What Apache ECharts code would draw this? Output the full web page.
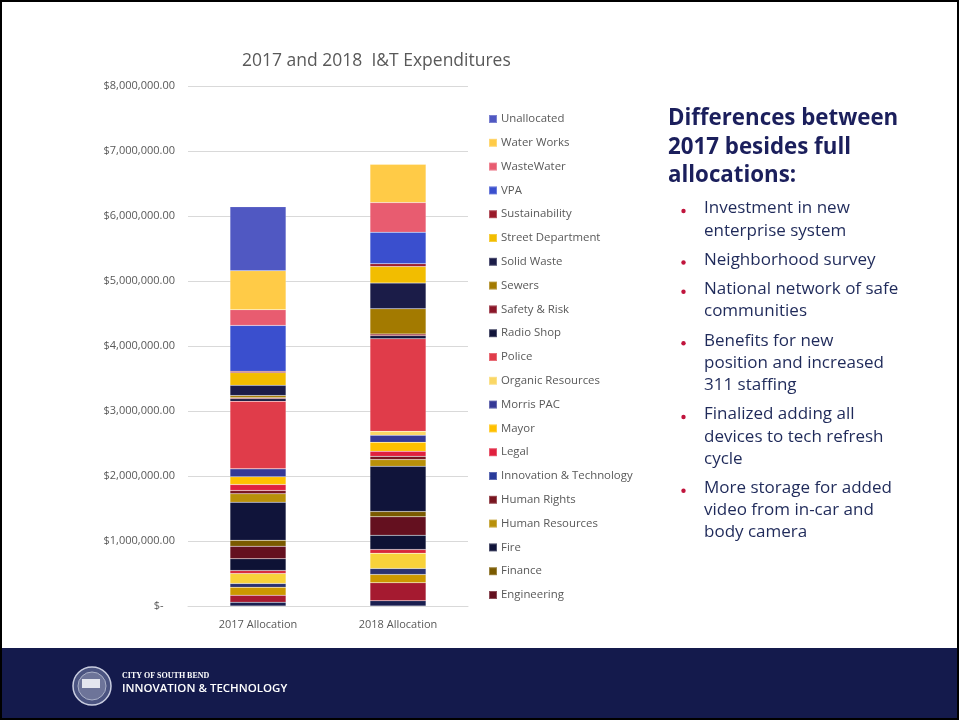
<!DOCTYPE html>
<html>
<head>
<meta charset="utf-8">
<script src="https://cdn.jsdelivr.net/npm/echarts@6/dist/echarts.min.js"></script>
<style>
html,body{margin:0;padding:0;background:#fff;}
#chart{width:960px;height:721px;}
</style>
</head>
<body>
<div id="chart"></div>
<script>
// ---- data ----
const categories = ['2017 Allocation', '2018 Allocation'];
// stack order, bottom to top
const seriesNames = [
  'Administration & Finance', 'Animal Care & Control', 'Building Department', 'City Clerk',
  'Code Enforcement', 'Common Council', 'Community Investment',
  'Engineering', 'Finance', 'Fire', 'Human Resources', 'Human Rights',
  'Innovation & Technology', 'Legal', 'Mayor', 'Morris PAC', 'Organic Resources',
  'Police', 'Radio Shop', 'Safety & Risk', 'Sewers', 'Solid Waste', 'Street Department',
  'Sustainability', 'VPA', 'WasteWater', 'Water Works', 'Unallocated'
];
const values2017 = [
  58000, 108000, 123000, 57000, 154000, 46000, 180000,
  194000, 92000, 585000, 129000, 51000,
  0, 92000, 118000, 123000, 0,
  1040000, 37000, 15000, 35000, 158000, 195000,
  20000, 707000, 241000, 600000, 984000
];
const values2018 = [
  80000, 277000, 128000, 92000, 235000, 57000, 220000,
  283000, 81000, 696000, 103000, 51000,
  0, 77000, 138000, 108000, 61000,
  1425000, 46000, 26000, 389000, 395000, 255000,
  41000, 487000, 455000, 590000, 0
];
const legendNames = [
  'Unallocated', 'Water Works', 'WasteWater', 'VPA', 'Sustainability', 'Street Department',
  'Solid Waste', 'Sewers', 'Safety & Risk', 'Radio Shop', 'Police', 'Organic Resources',
  'Morris PAC', 'Mayor', 'Legal', 'Innovation & Technology', 'Human Rights',
  'Human Resources', 'Fire', 'Finance', 'Engineering'
];
const yTicks = [0, 1000000, 2000000, 3000000, 4000000, 5000000, 6000000, 7000000, 8000000];
const bullets = [
  ['Investment in new', 'enterprise system'],
  ['Neighborhood survey'],
  ['National network of safe', 'communities'],
  ['Benefits for new', 'position and increased', '311 staffing'],
  ['Finalized adding all', 'devices to tech refresh', 'cycle'],
  ['More storage for added', 'video from in-car and', 'body camera']
];
const headingLines = ['Differences between', '2017 besides full', 'allocations:'];

// ---- styles ----
const palette = {
  'Administration & Finance': '#1a1f50',
  'Animal Care & Control': '#a51a30',
  'Building Department': '#cc9800',
  'City Clerk': '#2a3170',
  'Code Enforcement': '#f8d23a',
  'Common Council': '#d8283a',
  'Community Investment': '#0e1235',
  'Engineering': '#64101f',
  'Finance': '#7a5a00',
  'Fire': '#10143a',
  'Human Resources': '#b8900a',
  'Human Rights': '#78151f',
  'Innovation & Technology': '#283a9a',
  'Legal': '#e0203e',
  'Mayor': '#ffc000',
  'Morris PAC': '#353996',
  'Organic Resources': '#fad765',
  'Police': '#e03c4a',
  'Radio Shop': '#12153a',
  'Safety & Risk': '#8a1628',
  'Sewers': '#a37a00',
  'Solid Waste': '#1b1c48',
  'Street Department': '#f2bd00',
  'Sustainability': '#9a1a2a',
  'VPA': '#3a4fce',
  'WasteWater': '#e85c70',
  'Water Works': '#ffcb47',
  'Unallocated': '#5058c2'
};
const FONT = '"Open Sans", "Noto Sans", sans-serif';

function money(v) {
  if (v === 0) return '$-    ';
  return '$' + v.toLocaleString('en-US', {minimumFractionDigits: 2, maximumFractionDigits: 2});
}

const series = seriesNames.map((name, i) => ({
  name: name,
  type: 'bar',
  stack: 'total',
  barWidth: 56,
  itemStyle: {color: palette[name], borderColor: 'rgba(255,255,255,0.25)', borderWidth: 0.5},
  emphasis: {disabled: true},
  data: [values2017[i], values2018[i]]
}));

// graphic elements: frame, footer, text panel
const graphics = [];
graphics.push({type: 'rect', shape: {x: 1, y: 1, width: 957, height: 718}, style: {fill: 'none', stroke: '#000', lineWidth: 2}, z: 100});
graphics.push({type: 'rect', shape: {x: 2, y: 648, width: 955, height: 70}, style: {fill: '#141a4c'}, z: 10});
graphics.push({type: 'circle', shape: {cx: 92, cy: 686, r: 19}, style: {fill: '#4b5481', stroke: '#c9cde0', lineWidth: 1.5}, z: 11});
graphics.push({type: 'circle', shape: {cx: 92, cy: 686, r: 14}, style: {fill: '#6d7499', stroke: '#aab0c8', lineWidth: 1}, z: 12});
graphics.push({type: 'rect', shape: {x: 82, y: 679, width: 18, height: 9}, style: {fill: '#e4e6ef'}, z: 13});
graphics.push({type: 'text', left: 122, top: 672, style: {text: 'CITY OF SOUTH BEND', fill: '#ffffff', font: 'bold 8px "Liberation Serif", serif'}, z: 12});
graphics.push({type: 'text', left: 122, top: 683, style: {text: 'INNOVATION & TECHNOLOGY', fill: '#ffffff', font: '600 11.5px "Open Sans", sans-serif'}, z: 12});

headingLines.forEach((t, i) => {
  graphics.push({type: 'text', left: 668, top: 108 + i * 28.5, style: {text: t, fill: '#1b1f5c', font: 'bold 22.3px "Open Sans", sans-serif'}});
});
let y = 200;
bullets.forEach((lines) => {
  graphics.push({type: 'circle', shape: {cx: 683.5, cy: y + 11, r: 2.2}, style: {fill: '#c0143c'}});
  lines.forEach((t, j) => {
    graphics.push({type: 'text', left: 704, top: y + j * 22.2, style: {text: t, fill: '#1f2a5a', font: '17px "Open Sans", sans-serif'}});
  });
  y += lines.length * 22.2 + 7.1;
});

const chart = echarts.init(document.getElementById('chart'), null, {renderer: 'canvas'});
chart.setOption({
  animation: false,
  backgroundColor: '#ffffff',
  textStyle: {fontFamily: FONT},
  title: {
    text: '2017 and 2018  I&T Expenditures',
    left: 237, top: 47,
    textStyle: {color: '#595959', fontSize: 17.5, fontWeight: 'normal', fontFamily: FONT}
  },
  grid: {left: 188, right: 492, top: 86, bottom: 115, containLabel: false},
  legend: {
    orient: 'vertical',
    left: 483, top: 107,
    data: legendNames,
    icon: 'rect',
    itemWidth: 8, itemHeight: 8,
    itemGap: 9.8,
    selectedMode: false,
    textStyle: {color: '#595959', fontSize: 11.4, lineHeight: 14, fontFamily: FONT, padding: [0, 0, 0, -1]}
  },
  xAxis: {
    type: 'category',
    data: categories,
    axisLine: {lineStyle: {color: '#d9d9d9', width: 1}},
    axisTick: {show: false},
    axisLabel: {color: '#595959', fontSize: 11, margin: 13, fontFamily: FONT}
  },
  yAxis: {
    type: 'value',
    min: yTicks[0], max: yTicks[yTicks.length - 1], interval: 1000000,
    axisLine: {show: false},
    axisTick: {show: false},
    splitLine: {lineStyle: {color: '#d9d9d9', width: 1}},
    axisLabel: {color: '#595959', fontSize: 11, margin: 13, formatter: money, fontFamily: FONT}
  },
  graphic: graphics,
  series: series
});
</script>
</body>
</html>
